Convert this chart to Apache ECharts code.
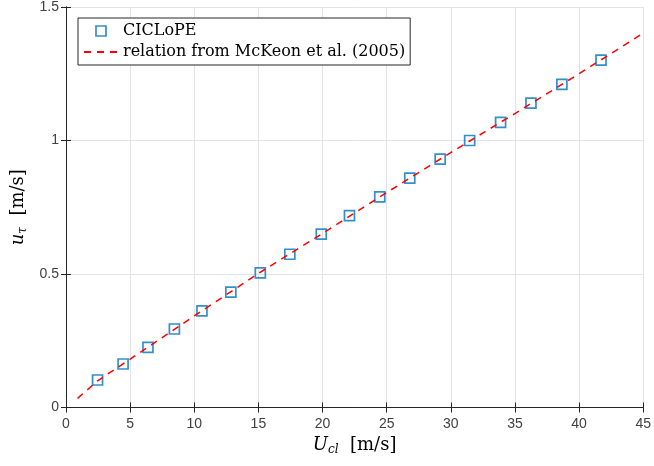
<!DOCTYPE html>
<html>
<head>
<meta charset="utf-8">
<script src="https://cdn.jsdelivr.net/npm/echarts@6/dist/echarts.min.js"></script>
<style>
  html, body { margin: 0; padding: 0; background: #fff; }
  #chart { width: 654px; height: 466px; }
</style>
</head>
<body>
<div id="chart"></div>
<script>
// Centreline velocity U_cl [m/s] and friction velocity u_tau [m/s], CICLoPE measurements
var ucl = [2.46, 4.45, 6.39, 8.45, 10.6, 12.85, 15.15, 17.45, 19.9, 22.1, 24.46, 26.8, 29.17, 31.47, 33.88, 36.25, 38.66, 41.71];
var utau = [0.103, 0.163, 0.225, 0.294, 0.362, 0.432, 0.504, 0.574, 0.649, 0.719, 0.789, 0.859, 0.930, 1.000, 1.068, 1.140, 1.210, 1.301];

// McKeon et al. (2005) friction relation, sampled along the curve
var relU = [0.9, 2.46, 5, 10, 15, 20, 25, 30, 35, 40, 45];
var relTau = [0.034, 0.10, 0.181, 0.343, 0.502, 0.652, 0.805, 0.955, 1.101, 1.25, 1.402];

var xTicks = [0, 5, 10, 15, 20, 25, 30, 35, 40, 45];
var yTicks = [0, 0.5, 1, 1.5];

var axisColor = '#262626';
var labelColor = '#404040';
var serif = '"DejaVu Serif", "Liberation Serif", serif';
var sans = '"Liberation Sans", Arial, sans-serif';

function pairs(xs, ys) {
  return xs.map(function (x, i) { return [x, ys[i]]; });
}

var chart = echarts.init(document.getElementById('chart'), null, { renderer: 'canvas' });

var frameAxis = {
  axisLine: { show: true, lineStyle: { color: axisColor, width: 1 } },
  axisTick: { show: true, inside: true, length: 5, lineStyle: { color: axisColor, width: 1 } },
  axisLabel: { show: false },
  splitLine: { show: false }
};

var nameRich = {
  i: { fontFamily: serif, fontSize: 18, fontStyle: 'italic', color: '#000' },
  s: { fontFamily: serif, fontSize: 12, fontStyle: 'italic', color: '#000', padding: [9, 0, 0, 0] }
};

chart.setOption({
  animation: false,
  backgroundColor: '#ffffff',
  grid: { left: 66, right: 8, top: 6.5, bottom: 58.5, containLabel: false },
  legend: {
    orient: 'vertical',
    left: 78,
    top: 18,
    padding: [5, 5, 5, 5],
    itemGap: 5,
    itemWidth: 34,
    itemHeight: 10,
    symbolKeepAspect: true,
    backgroundColor: '#ffffff',
    borderColor: axisColor,
    borderWidth: 1,
    borderRadius: 0,
    textStyle: { fontFamily: serif, fontSize: 16, color: '#000', lineHeight: 16 },
    data: [
      { name: 'CICLoPE', icon: 'path://M0,0L10,0L10,10L0,10Z', itemStyle: { color: 'rgba(255,255,255,0)', borderColor: '#0072BD', borderWidth: 1.7 } },
      { name: 'relation from McKeon et al. (2005)', itemStyle: { opacity: 0 } }
    ]
  },
  xAxis: [
    Object.assign({
      type: 'value', min: 0, max: 45, interval: 5, position: 'bottom',
      name: '{i|U}{s|cl}  [m/s]',
      nameLocation: 'middle', nameGap: 26,
      nameTextStyle: { fontFamily: serif, fontSize: 18, color: '#000', rich: nameRich },
      splitLine: { show: true, lineStyle: { color: '#e3e3e3', width: 1 } }
    }, {
      axisLine: frameAxis.axisLine,
      axisTick: frameAxis.axisTick,
      axisLabel: {
        show: true, margin: 10, color: labelColor, fontFamily: sans, fontSize: 14,
        formatter: function (v) { return xTicks.indexOf(v) >= 0 ? String(v) : ''; }
      }
    }),
    Object.assign({ type: 'value', min: 0, max: 45, interval: 5, position: 'top' }, frameAxis)
  ],
  yAxis: [
    Object.assign({
      type: 'value', min: 0, max: 1.5, interval: 0.5, position: 'left',
      name: '{i|u}{s|τ}  [m/s]',
      nameLocation: 'middle', nameGap: 25, nameRotate: 90,
      nameTextStyle: { fontFamily: serif, fontSize: 18, color: '#000', rich: nameRich },
      splitLine: { show: true, lineStyle: { color: '#e3e3e3', width: 1 } }
    }, {
      axisLine: frameAxis.axisLine,
      axisTick: frameAxis.axisTick,
      axisLabel: {
        show: true, margin: 7, color: labelColor, fontFamily: sans, fontSize: 14,
        formatter: function (v) { return yTicks.indexOf(v) >= 0 ? String(v) : ''; }
      }
    }),
    Object.assign({ type: 'value', min: 0, max: 1.5, interval: 0.5, position: 'right' }, frameAxis)
  ],
  series: [
    {
      name: 'CICLoPE',
      type: 'scatter',
      symbol: 'rect',
      symbolSize: 10,
      itemStyle: { color: 'rgba(255,255,255,0)', borderColor: '#0072BD', borderWidth: 1.7 },
      data: pairs(ucl, utau),
      z: 2
    },
    {
      name: 'relation from McKeon et al. (2005)',
      type: 'line',
      symbol: 'none',
      showSymbol: false,
      smooth: false,
      lineStyle: { color: '#ff0000', width: 1.5, type: [7, 6] },
      itemStyle: { color: '#ff0000' },
      data: pairs(relU, relTau),
      z: 3
    }
  ]
});
</script>
</body>
</html>
